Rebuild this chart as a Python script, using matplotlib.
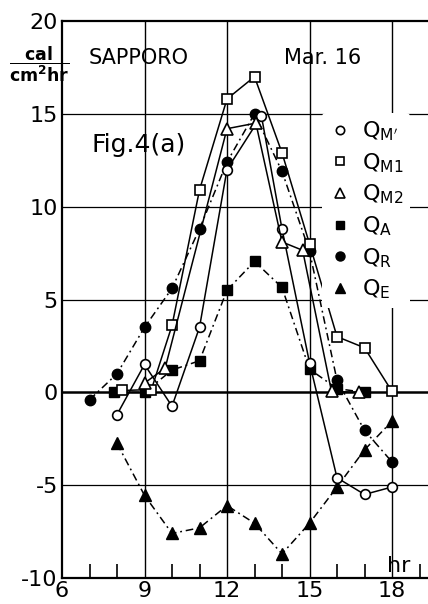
import matplotlib
matplotlib.use("Agg")
import matplotlib.pyplot as plt
from matplotlib.lines import Line2D

# values (hours, cal/cm2 hr)
hours_mp = [8, 9, 10, 11, 12, 13.25, 14, 15, 16, 17, 18]
q_mprime = [-1.2, 1.5, -0.75, 3.5, 12.0, 14.9, 8.8, 1.6, -4.6, -5.5, -5.1]

hours_m1 = [8.2, 9.25, 10, 11, 12, 13, 14, 15, 16, 17, 18]
q_m1 = [0.1, 0.15, 3.6, 10.9, 15.8, 17.0, 12.9, 8.0, 3.0, 2.4, 0.05]

hours_m2 = [9, 9.75, 12, 13.05, 14, 14.75, 15.8, 16.8]
q_m2 = [0.5, 1.3, 14.2, 14.5, 8.1, 7.65, 0.05, 0.0]

hours_a = [7.9, 9, 10, 11, 12, 13, 14, 15, 16, 17]
q_a = [0.0, 0.0, 1.2, 1.7, 5.5, 7.05, 5.65, 1.25, 0.2, 0.0]

hours_r = [7, 8, 9, 10, 11, 12, 13, 14, 15, 16, 17, 18]
q_r = [-0.4, 1.0, 3.5, 5.6, 8.8, 12.4, 15.0, 11.9, 7.6, 0.65, -2.05, -3.75]

hours_e = [8, 9, 10, 11, 12, 13, 14, 15, 16, 17, 18]
q_e = [-2.75, -5.55, -7.6, -7.3, -6.1, -7.05, -8.7, -7.05, -5.1, -3.1, -1.55]

x_ticks = [6, 9, 12, 15, 18]
y_ticks = [-10, -5, 0, 5, 10, 15, 20]

W, H = 428, 604
fig = plt.figure(figsize=(W / 100, H / 100), dpi=100)
ax = fig.add_axes([62 / W, 26 / H, (W - 62) / W, (578 - 21) / H])

ax.set_xlim(6, 6 + (W - 62) / 27.5)
ax.set_ylim(-10, 20)

dashdot = (0, (5, 2.5, 1.2, 2.5))
k = "black"

# open markers, solid lines
ax.plot(hours_mp, q_mprime, color=k, lw=1.1, marker="o", ms=7, mfc="white", mec=k, mew=1.2, zorder=4)
ax.plot(hours_m1, q_m1, color=k, lw=1.1, marker="s", ms=6.5, mfc="white", mec=k, mew=1.2, zorder=4)
ax.plot(hours_m2, q_m2, color=k, lw=1.1, marker="^", ms=8, mfc="white", mec=k, mew=1.2, zorder=4)
# filled markers, dash-dot lines
ax.plot(hours_a, q_a, color=k, lw=1.1, ls=dashdot, marker="s", ms=6.5, zorder=3)
ax.plot(hours_r, q_r, color=k, lw=1.1, ls=dashdot, marker="o", ms=7.5, zorder=3)
ax.plot(hours_e, q_e, color=k, lw=1.1, ls=dashdot, marker="^", ms=8.5, zorder=3)

# grid and frame
for xv in [9, 12, 15, 18]:
    ax.axvline(xv, color=k, lw=1.0, zorder=1)
for yv in [-5, 5, 10, 15]:
    ax.axhline(yv, color=k, lw=0.9, zorder=1)
ax.axhline(0, color=k, lw=1.8, zorder=2)

ax.spines["right"].set_visible(False)
for s in ["left", "bottom", "top"]:
    ax.spines[s].set_linewidth(1.6)

ax.set_xticks(x_ticks)
ax.set_xticks(range(6, 20), minor=True)
ax.set_yticks(y_ticks)
ax.tick_params(axis="x", which="major", length=0, labelsize=16, pad=2)
ax.tick_params(axis="x", which="minor", direction="in", length=10, width=1.2)
ax.tick_params(axis="y", which="major", length=0, labelsize=16, pad=3)
ax.set_yticklabels([str(v) for v in y_ticks])

ax.text(6.98, 18.0, "SAPPORO", fontsize=15, va="center", ha="left")
ax.text(14.07, 18.0, "Mar. 16", fontsize=15, va="center", ha="left")
ax.text(7.09, 13.3, "Fig.4(a)", fontsize=18, va="center", ha="left")
ax.text(17.82, -9.35, "hr", fontsize=16, va="center", ha="left")
fig.text(39 / W, 1 - 64 / H, r"$\dfrac{\mathbf{cal}}{\mathbf{cm^{2}hr}}$", fontsize=12.5,
         ha="center", va="center")

handles = [
    Line2D([], [], ls="none", marker="o", ms=6, mfc="white", mec=k, mew=1.2),
    Line2D([], [], ls="none", marker="s", ms=6, mfc="white", mec=k, mew=1.2),
    Line2D([], [], ls="none", marker="^", ms=7, mfc="white", mec=k, mew=1.2),
    Line2D([], [], ls="none", marker="s", ms=6, color=k),
    Line2D([], [], ls="none", marker="o", ms=6.5, color=k),
    Line2D([], [], ls="none", marker="^", ms=7.5, color=k),
]
labels = [r"Q$_{\mathrm{M}'}$", r"Q$_{\mathrm{M1}}$", r"Q$_{\mathrm{M2}}$",
          r"Q$_{\mathrm{A}}$", r"Q$_{\mathrm{R}}$", r"Q$_{\mathrm{E}}$"]
leg = fig.legend(handles, labels, loc="upper left", bbox_to_anchor=(322 / W, 1 - 113 / H),
                 fontsize=16, frameon=True, handlelength=1.0, handletextpad=0.5,
                 labelspacing=0.36, borderpad=0.3, borderaxespad=0)
leg.get_frame().set_facecolor("white")
leg.get_frame().set_edgecolor("none")
leg.get_frame().set_alpha(1)

fig.savefig("out.png", dpi=100)
